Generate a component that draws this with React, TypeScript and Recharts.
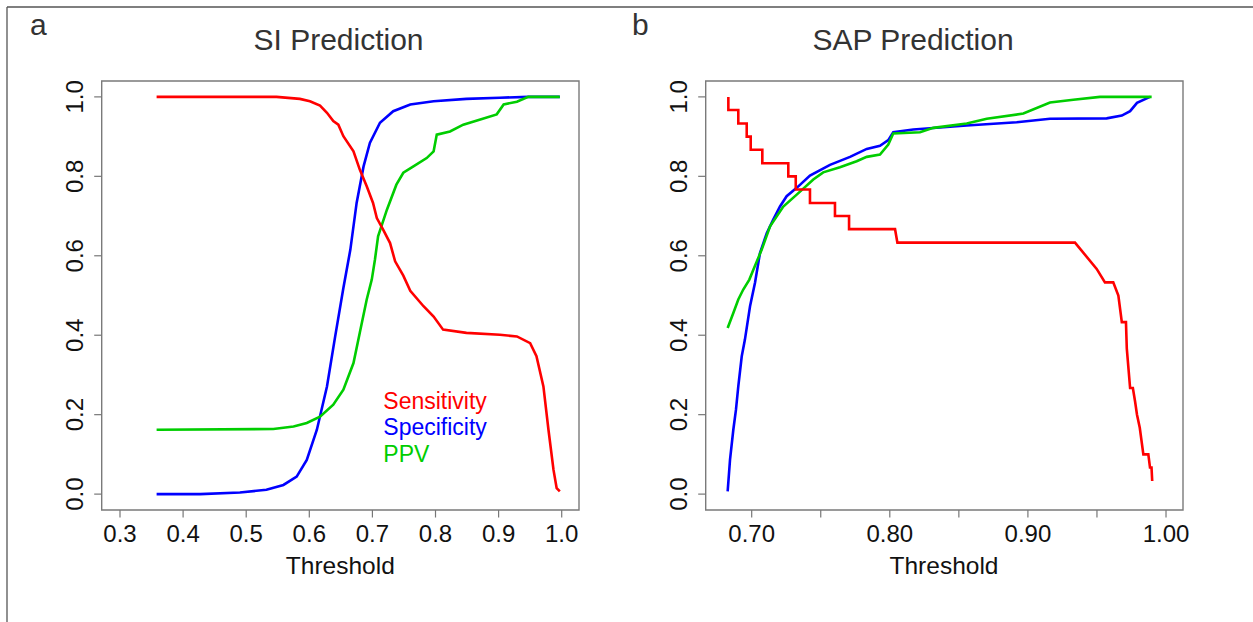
import React from 'react';
import { LineChart, Line, XAxis, YAxis, ReferenceArea } from 'recharts';

const FONT = '"Liberation Sans", Arial, Helvetica, sans-serif';

// ---------- Panel a: SI Prediction ----------
const siSensX = [0.358, 0.548, 0.585, 0.601, 0.617, 0.628, 0.638, 0.646, 0.654, 0.670, 0.680, 0.691, 0.701, 0.707, 0.717, 0.728, 0.736, 0.749, 0.760, 0.781, 0.797, 0.812, 0.849, 0.902, 0.929, 0.950, 0.960, 0.971, 0.979, 0.987, 0.992, 0.997];
const siSensY = [1.0, 1.0, 0.995, 0.989, 0.978, 0.960, 0.939, 0.930, 0.901, 0.863, 0.817, 0.775, 0.733, 0.695, 0.666, 0.632, 0.586, 0.550, 0.512, 0.473, 0.447, 0.414, 0.406, 0.401, 0.397, 0.380, 0.347, 0.271, 0.162, 0.061, 0.015, 0.007];

const siSpecX = [0.358, 0.427, 0.490, 0.532, 0.559, 0.580, 0.596, 0.612, 0.628, 0.641, 0.654, 0.665, 0.675, 0.686, 0.696, 0.712, 0.733, 0.760, 0.797, 0.849, 0.902, 0.947, 0.997];
const siSpecY = [0.0, 0.0, 0.004, 0.011, 0.023, 0.044, 0.086, 0.162, 0.271, 0.397, 0.519, 0.615, 0.733, 0.825, 0.884, 0.935, 0.964, 0.981, 0.989, 0.995, 0.998, 1.0, 1.0];

const siPpvX = [0.358, 0.543, 0.575, 0.596, 0.617, 0.638, 0.654, 0.670, 0.680, 0.691, 0.699, 0.704, 0.709, 0.723, 0.738, 0.749, 0.765, 0.786, 0.797, 0.802, 0.823, 0.844, 0.871, 0.897, 0.908, 0.929, 0.947, 0.997];
const siPpvY = [0.162, 0.164, 0.170, 0.179, 0.195, 0.225, 0.263, 0.330, 0.406, 0.490, 0.540, 0.590, 0.649, 0.716, 0.779, 0.809, 0.825, 0.846, 0.863, 0.905, 0.913, 0.930, 0.943, 0.956, 0.981, 0.988, 1.0, 1.0];

// ---------- Panel b: SAP Prediction ----------
const sapSensX = [0.6831, 0.6831, 0.6903, 0.6903, 0.6964, 0.6964, 0.6993, 0.6993, 0.7077, 0.7077, 0.7265, 0.7265, 0.7319, 0.7319, 0.7422, 0.7422, 0.7603, 0.7603, 0.7705, 0.7705, 0.8038, 0.8055, 0.9341, 0.9498, 0.9558, 0.9618, 0.9655, 0.9680, 0.9710, 0.9716, 0.9740, 0.9760, 0.9776, 0.9790, 0.9810, 0.9836, 0.9872, 0.9884, 0.9895, 0.9900];
const sapSensY = [1.0, 0.967, 0.967, 0.933, 0.933, 0.9, 0.9, 0.867, 0.867, 0.833, 0.833, 0.8, 0.8, 0.767, 0.767, 0.733, 0.733, 0.7, 0.7, 0.667, 0.667, 0.633, 0.633, 0.567, 0.533, 0.533, 0.5, 0.433, 0.433, 0.367, 0.267, 0.267, 0.233, 0.2, 0.167, 0.1, 0.1, 0.067, 0.067, 0.033];

const sapSpecX = [0.6826, 0.6843, 0.6867, 0.6886, 0.6903, 0.6928, 0.6951, 0.6988, 0.7024, 0.706, 0.7109, 0.7156, 0.7205, 0.7253, 0.7326, 0.7422, 0.7567, 0.7712, 0.7833, 0.7929, 0.7989, 0.8025, 0.8170, 0.8557, 0.8919, 0.916, 0.957, 0.968, 0.974, 0.979, 0.9884];
const sapSpecY = [0.007, 0.086, 0.162, 0.212, 0.271, 0.347, 0.389, 0.473, 0.532, 0.607, 0.657, 0.691, 0.724, 0.750, 0.771, 0.802, 0.829, 0.849, 0.869, 0.877, 0.891, 0.911, 0.918, 0.928, 0.936, 0.945, 0.946, 0.953, 0.964, 0.985, 1.0];

const sapPpvX = [0.6826, 0.6867, 0.6903, 0.6939, 0.6983, 0.7012, 0.7072, 0.7133, 0.7229, 0.7326, 0.7446, 0.7518, 0.7639, 0.776, 0.7833, 0.7929, 0.7989, 0.8025, 0.8219, 0.8315, 0.8557, 0.8702, 0.8967, 0.916, 0.9329, 0.9522, 0.9896];
const sapPpvY = [0.418, 0.456, 0.490, 0.515, 0.540, 0.565, 0.615, 0.674, 0.724, 0.754, 0.792, 0.810, 0.823, 0.838, 0.849, 0.855, 0.880, 0.908, 0.911, 0.922, 0.933, 0.945, 0.958, 0.986, 0.993, 1.0, 1.0];

// ticks
const siXTicks = [0.3, 0.4, 0.5, 0.6, 0.7, 0.8, 0.9, 1.0];
const sapXTicks = [0.70, 0.75, 0.80, 0.85, 0.90, 0.95, 1.00];
const sapXLabelTicks = [0.70, 0.80, 0.90, 1.00];
const yTicks = [0, 0.2, 0.4, 0.6, 0.8, 1.0];

const legendLabels = ['Sensitivity', 'Specificity', 'PPV'];
const RED = '#ff0000';
const BLUE = '#0000ff';
const GREEN = '#00cd00';

const toPts = (xs: number[], ys: number[]) => xs.map((x, i) => ({ x, y: ys[i] }));

const H = 622;
const PLOT_TOP = 81;
const PLOT_BOTTOM = 510;
const Y_AXIS_W = 60;
const X_AXIS_H = 70;
const Y_DOMAIN: [number, number] = [-0.04, 1.04];

type PanelProps = {
  left: number;
  width: number;
  plotLeft: number;
  plotRight: number;
  xDomain: [number, number];
  xTicks: number[];
  labelTicks: number[] | null;
  digits: number;
  sens: { x: number; y: number }[];
  spec: { x: number; y: number }[];
  ppv: { x: number; y: number }[];
};

function Panel(p: PanelProps) {
  const margin = {
    top: PLOT_TOP,
    right: p.width - p.plotRight,
    bottom: H - PLOT_BOTTOM - X_AXIS_H,
    left: p.plotLeft - Y_AXIS_W,
  };
  const XTick = (props: any) => {
    const v = props.payload.value;
    const show = !p.labelTicks || p.labelTicks.some((t) => Math.abs(t - v) < 1e-6);
    if (!show) return <g />;
    return (
      <text x={props.x} y={541.7} textAnchor="middle" fontFamily={FONT} fontSize={24} fill="#111">
        {Number(v).toFixed(p.digits)}
      </text>
    );
  };
  const YTick = (props: any) => {
    const bx = p.plotLeft - 18.4;
    const y = props.y;
    return (
      <text
        x={bx}
        y={y}
        transform={`rotate(-90, ${bx}, ${y})`}
        textAnchor="middle"
        fontFamily={FONT}
        fontSize={24}
        fill="#111"
      >
        {Number(props.payload.value).toFixed(1)}
      </text>
    );
  };
  return (
    <div style={{ position: 'absolute', left: p.left, top: 0 }}>
      <LineChart width={p.width} height={H} margin={margin}>
        <XAxis
          dataKey="x"
          type="number"
          domain={p.xDomain}
          allowDataOverflow
          ticks={p.xTicks}
          interval={0}
          height={X_AXIS_H}
          axisLine={false}
          tickLine={{ stroke: '#777', strokeWidth: 1.2 }}
          tickSize={7.5}
          tick={XTick}
        />
        <YAxis
          type="number"
          domain={Y_DOMAIN}
          allowDataOverflow
          ticks={yTicks}
          interval={0}
          width={Y_AXIS_W}
          axisLine={false}
          tickLine={{ stroke: '#777', strokeWidth: 1.2 }}
          tickSize={7.5}
          tick={YTick}
        />
        <ReferenceArea
          x1={p.xDomain[0]}
          x2={p.xDomain[1]}
          y1={Y_DOMAIN[0]}
          y2={Y_DOMAIN[1]}
          fill="none"
          fillOpacity={0}
          stroke="#7a7a7a"
          strokeWidth={1.4}
          ifOverflow="visible"
        />
        <Line data={p.spec} dataKey="y" type="linear" stroke={BLUE} strokeWidth={2.6} dot={false} activeDot={false} isAnimationActive={false} />
        <Line data={p.ppv} dataKey="y" type="linear" stroke={GREEN} strokeWidth={2.6} dot={false} activeDot={false} isAnimationActive={false} />
        <Line data={p.sens} dataKey="y" type="linear" stroke={RED} strokeWidth={2.6} dot={false} activeDot={false} isAnimationActive={false} />
      </LineChart>
    </div>
  );
}

export default function App() {
  return (
    <div style={{ position: 'absolute', left: 0, top: 0, width: 1253, height: 622, background: '#fff', overflow: 'hidden' }}>
      <Panel
        left={0}
        width={620}
        plotLeft={101.7}
        plotRight={579}
        xDomain={[0.271, 1.0274]}
        xTicks={siXTicks}
        labelTicks={null}
        digits={1}
        sens={toPts(siSensX, siSensY)}
        spec={toPts(siSpecX, siSpecY)}
        ppv={toPts(siPpvX, siPpvY)}
      />
      <Panel
        left={620}
        width={633}
        plotLeft={85.7}
        plotRight={563}
        xDomain={[0.6667, 1.0123]}
        xTicks={sapXTicks}
        labelTicks={sapXLabelTicks}
        digits={2}
        sens={toPts(sapSensX, sapSensY)}
        spec={toPts(sapSpecX, sapSpecY)}
        ppv={toPts(sapPpvX, sapPpvY)}
      />
      <svg width={1253} height={622} style={{ position: 'absolute', left: 0, top: 0, pointerEvents: 'none' }}>
        <line x1={7} y1={7} x2={1253} y2={7} stroke="#555" strokeWidth={1.3} />
        <line x1={7} y1={7} x2={7} y2={622} stroke="#555" strokeWidth={1.3} />
        <text x={30} y={35} fontFamily={FONT} fontSize={30} fill="#333">a</text>
        <text x={632} y={35} fontFamily={FONT} fontSize={30} fill="#333">b</text>
        <text x={338.5} y={50} textAnchor="middle" fontFamily={FONT} fontSize={30} fill="#333">SI Prediction</text>
        <text x={913} y={50} textAnchor="middle" fontFamily={FONT} fontSize={30} fill="#333">SAP Prediction</text>
        <text x={340.3} y={574} textAnchor="middle" fontFamily={FONT} fontSize={24.5} fill="#111">Threshold</text>
        <text x={944} y={574} textAnchor="middle" fontFamily={FONT} fontSize={24.5} fill="#111">Threshold</text>
        <text x={383.3} y={408.5} fontFamily={FONT} fontSize={23} fill={RED}>{legendLabels[0]}</text>
        <text x={383.3} y={435.3} fontFamily={FONT} fontSize={23} fill={BLUE}>{legendLabels[1]}</text>
        <text x={383.3} y={462.3} fontFamily={FONT} fontSize={23} fill={GREEN}>{legendLabels[2]}</text>
      </svg>
    </div>
  );
}
